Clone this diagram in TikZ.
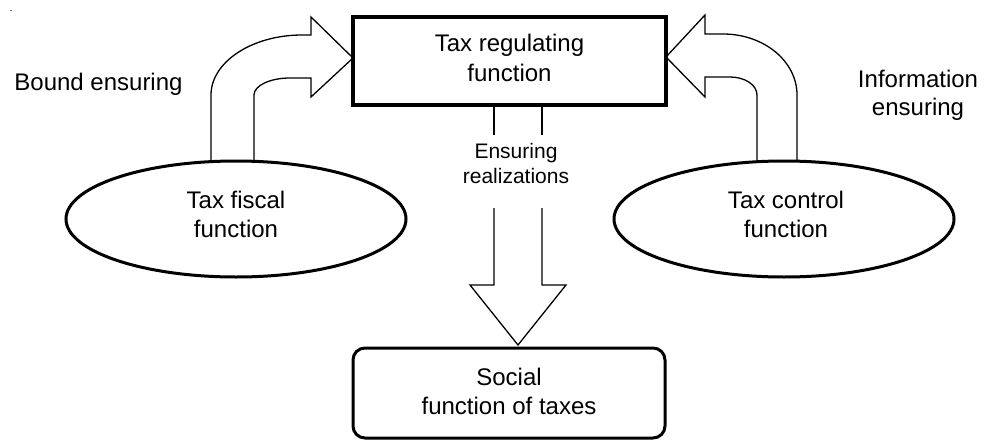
\documentclass[tikz,border=0pt]{standalone}
\usepackage{fontspec}
\setmainfont{Liberation Sans}
\usetikzlibrary{shapes.geometric}
\begin{document}
\begin{tikzpicture}[x=1pt,y=-1pt,
  lbl/.style={anchor=base, inner sep=0pt, font=\fontsize{24}{29}\selectfont},
  smalllbl/.style={anchor=base, inner sep=0pt, font=\fontsize{21}{25}\selectfont},
  blockarrow/.style={draw=black, line width=1.3pt, line join=miter},
  thickbox/.style={draw=black, line width=3.5pt, inner sep=0pt},
  oval/.style={ellipse, draw=black, line width=3pt, minimum width=340pt, minimum height=116pt, inner sep=0pt}]
\useasboundingbox (0,0) rectangle (984,441);
% tiny mark
\draw[gray, line width=1pt] (10,11) -- (12,11);
% block arrows
\draw[blockarrow] (211,161) -- (211,95) .. controls (211,62) and (252,35) .. (302,35)
  -- (311,35) -- (311,17) -- (353,58) -- (311,97) -- (311,78) -- (290,78)
  .. controls (270,78) and (254,85.6) .. (254,95) -- (254,161);
\draw[blockarrow] (797,161) -- (797,95) .. controls (797,61.3) and (764,34) .. (723,34)
  -- (705,34) -- (705,15) -- (666,57) -- (705,97) -- (705,77) -- (730,77)
  .. controls (745,77) and (757,85) .. (757,95) -- (757,161);
\draw[blockarrow] (494,105) -- (494,135);
\draw[blockarrow] (542,105) -- (542,135);
\draw[blockarrow] (494,208) -- (494,285) -- (470,285) -- (518,345) -- (566,285) -- (542,285) -- (542,208);
% boxes and ovals
\node[thickbox, minimum width=313pt, minimum height=88pt] (reg) at (509.5,61) {};
\node[thickbox, line width=3pt, rounded corners=12pt, minimum width=312pt, minimum height=90pt] (soc) at (509,393) {};
\node[oval] (fis) at (236,219) {};
\node[oval] (ctl) at (784,219) {};
% texts
\node[lbl] (t1) at (509.5,52) {Tax regulating};
\node[lbl] (t2) at (509.5,82) {function};
\node[lbl] (t3) at (98.5,91) {Bound ensuring};
\node[lbl] (t4) at (918,88) {Information};
\node[lbl] (t5) at (918,115) {ensuring};
\node[smalllbl] (t6) at (516,158) {Ensuring};
\node[smalllbl] (t7) at (516,183) {realizations};
\node[lbl] (t8) at (236,208) {Tax fiscal};
\node[lbl] (t9) at (236,237) {function};
\node[lbl] (t10) at (786,208) {Tax control};
\node[lbl] (t11) at (786,237) {function};
\node[lbl] (t12) at (509,385) {Social};
\node[lbl] (t13) at (509,414) {function of taxes};
\end{tikzpicture}
\end{document}
